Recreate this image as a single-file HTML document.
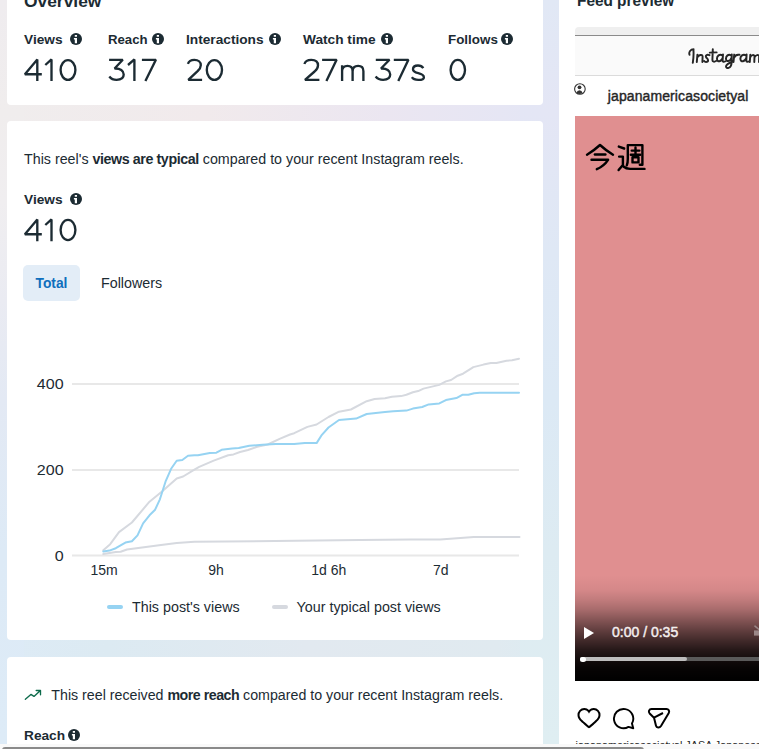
<!DOCTYPE html>
<html><head><meta charset="utf-8">
<style>
*{box-sizing:border-box;margin:0;padding:0}
html,body{width:759px;height:749px;overflow:hidden;background:#fff}
body{position:relative;font-family:"Liberation Sans",sans-serif;color:#1c2b33}
.bgl{position:absolute;left:0;top:0;width:24px;height:744px;background:linear-gradient(180deg,#efecef 0px,#f0eded 113px,#f0eef0 202px,#eaebf2 300px,#e3e9f4 400px,#ddeaf6 552px,#ddebf7 744px)}
.bgr{position:absolute;left:520px;top:0;width:39px;height:744px;background:linear-gradient(180deg,#e1e8f5 0px,#e4e6f5 113px,#dfe8f5 252px,#dce9f5 400px,#ddebf2 552px,#dfeef2 744px)}
.bgt{position:absolute;left:0;top:95px;width:545px;height:36px;background:linear-gradient(90deg,#f0eded 0px,#f1eaec 207px,#ebe6f1 387px,#e4e6f5 545px)}
.bgb{position:absolute;left:0;top:630px;width:545px;height:37px;background:linear-gradient(90deg,#ddebf6 0px,#dceaf2 107px,#e2e9f0 307px,#e0eaf0 497px,#ddebf2 545px)}
.card{position:absolute;left:7px;width:536px;background:#fff;border-radius:4px}
.t{position:absolute;white-space:nowrap}
.lbl{font-weight:bold;font-size:13.7px;line-height:13.7px}
.num{font-size:32px;line-height:32px;letter-spacing:0}
.info{position:absolute;width:12px;height:12px}
.reg{font-size:14px;line-height:14px}
.ax{font-size:15px;line-height:15px;margin-left:-0.4px;text-align:right;transform:scaleX(1.07);transform-origin:100% 0}
.xl{font-size:14px;line-height:14px}
</style></head><body>
<div class="bgt"></div><div class="bgb"></div><div class="bgl"></div><div class="bgr"></div>
<!-- card 1 -->
<div class="card" style="top:-20px;height:125px"></div>
<div class="t" style="left:24px;top:-6.7px;font-weight:bold;font-size:17.4px;line-height:17.4px">Overview</div>
<div class="t lbl" style="left:24px;top:33px">Views</div>
<div class="t lbl" style="left:108px;top:33px;font-size:13.2px">Reach</div>
<div class="t lbl" style="left:186px;top:33px">Interactions</div>
<div class="t lbl" style="left:303px;top:33px">Watch time</div>
<div class="t lbl" style="left:448px;top:33px;font-size:13.4px">Follows</div>
<svg class="info" style="left:70px;top:33px" viewBox="0 0 12 12"><circle cx="6" cy="6" r="6" fill="#1c2b33"/><path d="M4.8 2h2.2v1.8H4.8zM3.9 5h3.1v5.2H4.8V6.4H3.9z" fill="#fff"/></svg>
<svg class="info" style="left:152px;top:33px" viewBox="0 0 12 12"><circle cx="6" cy="6" r="6" fill="#1c2b33"/><path d="M4.8 2h2.2v1.8H4.8zM3.9 5h3.1v5.2H4.8V6.4H3.9z" fill="#fff"/></svg>
<svg class="info" style="left:269px;top:33px" viewBox="0 0 12 12"><circle cx="6" cy="6" r="6" fill="#1c2b33"/><path d="M4.8 2h2.2v1.8H4.8zM3.9 5h3.1v5.2H4.8V6.4H3.9z" fill="#fff"/></svg>
<svg class="info" style="left:381px;top:33px" viewBox="0 0 12 12"><circle cx="6" cy="6" r="6" fill="#1c2b33"/><path d="M4.8 2h2.2v1.8H4.8zM3.9 5h3.1v5.2H4.8V6.4H3.9z" fill="#fff"/></svg>
<svg class="info" style="left:501px;top:33px" viewBox="0 0 12 12"><circle cx="6" cy="6" r="6" fill="#1c2b33"/><path d="M4.8 2h2.2v1.8H4.8zM3.9 5h3.1v5.2H4.8V6.4H3.9z" fill="#fff"/></svg>






<svg style="position:absolute;left:0;top:0" width="500" height="90" fill="none" stroke="#1c2b33" stroke-width="2.35" stroke-linejoin="bevel"><path d="M41.8 74.2H24.9L37.3 59.4V81M45.3 65L51.5 59.4V81"/><ellipse cx="68" cy="70" rx="7.4" ry="9.9"/>
<path d="M109.1 59.8H122.8L114.6 68.5C120.3 68.2 123.7 70.9 123.7 74.6C123.7 78.3 120.6 79.9 116.6 79.9C113.6 79.9 111 78.7 109.3 76.5M128 65L134.4 59.4V81M141.9 59.8H155.9L145.4 81"/>
<path d="M187.9 63.8C188.8 61.2 191.3 59.9 194.4 59.9C198.3 59.9 200.8 62 200.8 65.2C200.8 67.6 199.6 69.2 197.6 71.2L188.3 79.9H202.1"/><ellipse cx="214.4" cy="70" rx="7.6" ry="9.9"/>
<path d="M304.4 64C305.3 61.3 308 59.9 311.3 59.9C315.5 59.9 318 62.1 318 65.4C318 67.8 316.8 69.4 314.6 71.5L305 79.9H319.4M322.1 59.8H336.6L326.4 81M342.1 65.2V81M342.1 70.8C342.3 67.6 344.6 65.9 347.5 65.9C350.7 65.9 352.6 67.8 352.6 71.2V81M352.6 71.2C352.8 67.8 355.1 65.9 358.1 65.9C361.3 65.9 363.4 67.8 363.4 71.2V81"/>
<path d="M375.8 59.8H389.5L381 68.5C386.8 68.2 390.2 70.9 390.2 74.6C390.2 78.3 387.1 79.9 383.1 79.9C380.1 79.9 377.4 78.7 375.6 76.5M393.8 59.8H408.4L398.3 81M423.3 68.2C422.2 66.5 420.4 65.5 418 65.5C415 65.5 413 67 413 69.2C413 71.7 415.5 72.5 418.3 73.2C421.5 74 423.9 75 423.9 77.4C423.9 79.6 421.4 79.9 418.3 79.9C415.4 79.9 413 79 411.9 77.2"/>
<ellipse cx="457.8" cy="69.9" rx="7.2" ry="10"/></svg>
<!-- card 2 -->
<div class="card" style="top:121px;height:519px"></div>
<div class="t reg" style="left:24px;top:152.2px;font-size:14.27px">This reel's <b style="letter-spacing:-0.42px">views are typical</b> compared to your recent Instagram reels.</div>
<div class="t lbl" style="left:24px;top:193px">Views</div>
<svg class="info" style="left:70px;top:193px" viewBox="0 0 12 12"><circle cx="6" cy="6" r="6" fill="#1c2b33"/><path d="M4.8 2h2.2v1.8H4.8zM3.9 5h3.1v5.2H4.8V6.4H3.9z" fill="#fff"/></svg>
<svg style="position:absolute;left:0;top:160px" width="100" height="90" fill="none" stroke="#1c2b33" stroke-width="2.35" stroke-linejoin="bevel"><path d="M41.8 74.2H24.9L37.3 59.4V81.2M45.3 65L51.5 59.4V81.2"/><ellipse cx="68" cy="70" rx="7.4" ry="10.1"/></svg>
<div style="position:absolute;left:23px;top:265px;width:57px;height:35.5px;background:#e3edf7;border-radius:5px"></div>
<div class="t" style="left:35.5px;top:277.2px;font-weight:bold;font-size:13.8px;line-height:13.8px;color:#0f6fbd">Total</div>
<div class="t" style="left:101px;top:275.6px;font-size:14.3px;line-height:14.3px">Followers</div>

<svg style="position:absolute;left:0;top:0" width="559" height="749">
 <g stroke="#e8e8e8" stroke-width="2"><line x1="72" y1="384" x2="519" y2="384"/><line x1="72" y1="470" x2="519" y2="470"/><line x1="72" y1="555.5" x2="519" y2="555.5"/></g>
 <g fill="none" stroke-width="2" stroke-linejoin="round" stroke-linecap="round">
 <polyline stroke="#d6d9df" points="103.3,554.1 115.8,551.9 120.6,551.7 127,549.5 159.1,545.3 176.7,542.9 194.4,541.8 360,540 411,539.6 440.2,539.5 473.8,536.9 519.5,536.9"/>
 <polyline stroke="#d6d9df" points="103.3,550.3 110.2,544.2 119,532.1 131.9,522.5 149.5,501.7 162.3,491.3 176.7,478.5 183.1,476.5 194.4,469.6 199.2,466.9 213.7,460.6 228.2,455.3 233.5,454.4 240,452 248,450 257.2,446.8 267.7,444.5 279.6,438.9 290,434.5 294.2,433.2 307.4,426.9 316.6,424.5 328.5,417 339,411.7 350.9,409.5 366.7,401.2 374.6,399 385,398.2 391.9,396.8 401.1,396.1 406.4,394.8 412.9,392.2 418.2,391.1 423.5,388.6 439.3,384.9 445.9,381.4 451.1,380 457.7,375.7 463,373.7 472.2,367.8 473.3,367.1 483.5,364.6 490.8,363 496.4,363 506.5,360.7 512,360.2 519,358.7"/>
 <polyline stroke="#96d3f2" points="103.3,551.4 109.4,550.6 115.8,548.2 125.4,542.6 131.9,541.3 137.5,535.4 143.1,523.3 149.5,515.3 155.1,509.7 159.9,499.3 165.5,481.7 171.1,468.8 176.7,460.8 182.3,460 188,455.7 194.4,455.2 197.9,455.3 209.8,453.1 216.4,452.7 221.6,449.8 232.2,448.4 238.7,448.1 249.3,445.8 262.5,444.8 275.6,443.9 294.2,444 304.8,443.1 316.6,443.1 321.9,434.8 328.5,427.5 339,420 356.1,418.6 366.7,414 385,412.1 393.2,411.3 406.4,410.6 412.9,408.6 422.2,407 428.7,404.4 439.3,403.4 445.9,400.1 456.4,398.1 462.3,394.8 468.3,394.8 474.2,393.2 479.8,392.8 519,392.8"/>
 </g>
 <g stroke-width="4" stroke-linecap="round"><line x1="109" y1="607" x2="121" y2="607" stroke="#96d3f2"/><line x1="274" y1="607" x2="286" y2="607" stroke="#d6d9df"/></g>
</svg>
<div class="t ax" style="left:20px;width:43.6px;top:376.4px">400</div>
<div class="t ax" style="left:20px;width:43.6px;top:462.3px">200</div>
<div class="t ax" style="left:20px;width:43.6px;top:548.4px">0</div>
<div class="t xl" style="left:90.5px;top:563.4px">15m</div>
<div class="t xl" style="left:208.3px;top:563.4px">9h</div>
<div class="t xl" style="left:311.2px;top:563.4px">1d 6h</div>
<div class="t xl" style="left:433px;top:563.4px">7d</div>
<div class="t" style="left:132px;top:600.1px;font-size:14.3px;line-height:14.3px">This post's views</div>
<div class="t" style="left:296.6px;top:600.1px;font-size:14.3px;line-height:14.3px">Your typical post views</div>

<!-- card 3 -->
<div class="card" style="top:657px;height:120px"></div>
<svg style="position:absolute;left:24px;top:688px" width="18" height="14" viewBox="0 0 18 14"><path d="M1.35 11.3 L6.9 6.4 L10 8.4 L16.1 2.7 M12.2 2.5 H16.5 V6.7" fill="none" stroke="#0d6b4b" stroke-width="1.35" stroke-linejoin="round" stroke-linecap="round"/></svg>
<div class="t reg" style="left:51.3px;top:688.1px;font-size:14.23px">This reel received <b style="letter-spacing:-0.5px">more reach</b> compared to your recent Instagram reels.</div>
<div class="t lbl" style="left:24px;top:728.7px">Reach</div>
<svg class="info" style="left:68px;top:729px" viewBox="0 0 12 12"><circle cx="6" cy="6" r="6" fill="#1c2b33"/><path d="M4.8 2h2.2v1.8H4.8zM3.9 5h3.1v5.2H4.8V6.4H3.9z" fill="#fff"/></svg>

<!-- right panel -->
<div class="t" style="left:576.5px;top:-6.9px;font-weight:bold;font-size:16px;line-height:16px;transform:scaleX(0.96);transform-origin:0 0">Feed preview</div>
<div style="position:absolute;left:575px;top:27px;width:200px;height:9px;background:#efefef;border-radius:4px 0 0 0;border-bottom:1px solid #8a8a8a"></div>
<div style="position:absolute;left:575px;top:36px;width:200px;height:40px;background:#fafafa;border-bottom:1px solid #dbdbdb"></div>
<svg style="position:absolute;left:0;top:0" width="759" height="80" fill="none" stroke="#262626" stroke-width="1.95" stroke-linecap="round" stroke-linejoin="round"><path d="M689.5 54.8C688.6 52 690.5 49.3 693.6 49.3M693.4 49.6C693.8 54 693.4 59 692.8 62.8M696.8 62L697.4 54.8M697.2 57.5C698.5 54.8 702.5 53.8 702.6 56.5L702.4 62M709.5 55.2C707 54 704.8 55.5 706.5 57.8C708.5 59.5 709 62 706 62C705 62 704.5 61.5 704.2 61M712.8 49.3L712.4 60C712.4 62 714.5 62 716 61M709.8 52.6L716.6 52.4M722.5 55.5C719.5 53.5 716.8 56 717 59C717.2 62.5 721.5 62 722.8 57.5M723 54.5L722.6 60.5C722.6 62 724 62 725 61.5M731.2 55.5C728.5 53.5 725.8 56 726 59C726.2 62 730 61.8 731.3 58M731.8 54.5L731.5 63.5C731.2 68.5 726 69 726 66.5C726 64.5 729 63 732.5 61.5M733.5 62L734.2 54.6M734 58C735 55 737 54.3 739.5 54.8M746.2 55.5C743 53.5 740.2 56 740.4 59C740.6 62.5 745 62 746.4 57.5M746.6 54.5L746.3 60.5C746.3 62 747.6 62 748.6 61.5M749.8 62L750.3 54.8M750.2 57.5C751 55 754.5 54 754.5 56.5L754.3 62M754.5 57.5C755.5 55 759 54 759.2 56.5L759 62"/></svg>
<svg style="position:absolute;left:574px;top:82.8px" width="12" height="12" viewBox="0 0 12 12"><circle cx="5.9" cy="6" r="5.3" fill="none" stroke="#333" stroke-width="1.1"/><circle cx="5.5" cy="4.3" r="1.9" fill="#333"/><path d="M2.6 9.8 Q3 7.3 5.5 7.3 Q8 7.3 8.4 9.8 Q5.5 12.2 2.6 9.8Z" fill="#333"/></svg>
<div class="t" style="left:607.8px;top:89px;font-size:14px;line-height:14px;color:#262626;letter-spacing:0.1px;-webkit-text-stroke:0.4px #262626">japanamericasocietyal</div>
<div style="position:absolute;left:575px;top:116px;width:200px;height:565px;background:#e08f90"></div>
<div style="position:absolute;left:575px;top:570px;width:200px;height:111px;background:linear-gradient(180deg,rgba(0,0,0,0) 5px,rgba(0,0,0,.015) 10px,rgba(0,0,0,.05) 20px,rgba(0,0,0,.14) 30px,rgba(0,0,0,.26) 40px,rgba(0,0,0,.41) 50px,rgba(0,0,0,.56) 60px,rgba(0,0,0,.70) 70px,rgba(0,0,0,.83) 80px,rgba(0,0,0,.92) 90px,rgba(0,0,0,.97) 98px,#000 111px)"></div>
<svg style="position:absolute;left:584px;top:141px" width="64" height="32" viewBox="0 0 64 32" fill="none" stroke="#000" stroke-width="2.4" stroke-linecap="round" stroke-linejoin="round">
 <path d="M3 13.7 Q10 9.5 16 4 Q22 9.5 29 13.7"/><path d="M10.9 13.5H21.4"/><path d="M7.5 18.8H24.1 Q20 25 12.8 28.2"/>
 <path d="M34.8 5.6L40.2 7.5"/><path d="M35.1 15.6H38.9V23.9L34.6 29.1"/><path d="M39.5 25.5Q42 27.8 46 27.9H60.5"/>
 <path d="M42.8 24.4Q43.8 22 43.8 18V4.1H58.4V23.7H55.8"/><path d="M47.7 9.6H55.4M51.5 6.4V13.7M46.8 13.7H56.2"/><path d="M48.5 16.2H54.5V21.4H48.5Z"/>
</svg>
<svg style="position:absolute;left:753px;top:625px" width="10" height="14" viewBox="0 0 10 14"><rect x="1" y="5.4" width="8" height="5.2" fill="#9b8787"/><path d="M2 1.2L8 6" stroke="#9b8787" stroke-width="1.6" stroke-linecap="round"/></svg>
<svg style="position:absolute;left:584px;top:627px" width="10" height="12" viewBox="0 0 10 12"><path d="M0 0L10 6L0 12Z" fill="#fff"/></svg>
<div class="t" style="left:612px;top:625.3px;font-size:14px;line-height:14px;color:#f4eeee;-webkit-text-stroke:0.45px #f4eeee">0:00 / 0:35</div>
<div style="position:absolute;left:580px;top:657px;width:200px;height:4px;background:#5a5a5a;border-radius:2px"></div>
<div style="position:absolute;left:580px;top:657px;width:107px;height:4px;background:#bdbdbd;border-radius:2px"></div>
<div style="position:absolute;left:580px;top:656.5px;width:6px;height:5px;background:#fff;border-radius:2.5px"></div>

<svg style="position:absolute;left:577px;top:706px" width="24" height="24" viewBox="0 0 24 24"><path d="M16.792 3.904A4.989 4.989 0 0 1 21.5 9.122c0 3.072-2.652 4.959-5.197 7.222-2.512 2.243-3.865 3.469-4.303 3.752-.477-.309-2.143-1.823-4.303-3.752C5.141 14.072 2.5 12.167 2.5 9.122a4.989 4.989 0 0 1 4.708-5.218 4.21 4.21 0 0 1 3.675 1.941c.84 1.175.98 1.763 1.12 1.763s.278-.588 1.11-1.766a4.17 4.17 0 0 1 3.679-1.938m0-2a6.04 6.04 0 0 0-4.797 2.127 6.052 6.052 0 0 0-4.787-2.127A6.985 6.985 0 0 0 .5 9.122c0 3.61 2.55 5.827 5.015 7.97.283.246.569.494.853.747l1.027.918a44.998 44.998 0 0 0 3.518 3.018 2 2 0 0 0 2.174 0 45.263 45.263 0 0 0 3.626-3.115l.922-.824c.293-.26.59-.519.885-.774 2.334-2.025 4.98-4.32 4.98-7.94a6.985 6.985 0 0 0-6.708-7.218Z" fill="#000"/></svg>
<svg style="position:absolute;left:612.3px;top:706.5px" width="23.2" height="23.2" viewBox="0 0 24 24"><path d="M20.656 17.008a9.993 9.993 0 1 0-3.59 3.615L22 22Z" fill="none" stroke="#000" stroke-width="2" stroke-linejoin="round"/></svg>
<svg style="position:absolute;left:647px;top:706px" width="24" height="24" viewBox="0 0 24 24"><path d="M13.973 20.046 21.77 6.928C22.8 5.195 21.55 3 19.535 3H4.466C2.138 3 .984 5.825 2.646 7.456l4.37 4.287 1.985 7.936c.54 2.16 3.448 2.6 4.972.367Z" fill="none" stroke="#000" stroke-linejoin="round" stroke-width="2"/><line fill="none" stroke="#000" stroke-linejoin="round" stroke-width="2" x1="7.002" x2="16" y1="11.693" y2="7"/></svg>
<div style="position:absolute;left:575px;top:736px;width:184px;height:8px;overflow:hidden"><div class="t" style="left:0.5px;top:3.8px;font-size:10.8px;line-height:10.8px;color:#262626">japanamericasocietyal JASA Japanese Language</div></div>

<!-- scrollbar -->
<div style="position:absolute;left:0;top:744px;width:759px;height:5px;background:#f9f9f9"></div>
<div style="position:absolute;left:2px;top:746.8px;width:642px;height:6px;background:#8a8a8a;border-radius:3px"></div>
</body></html>
